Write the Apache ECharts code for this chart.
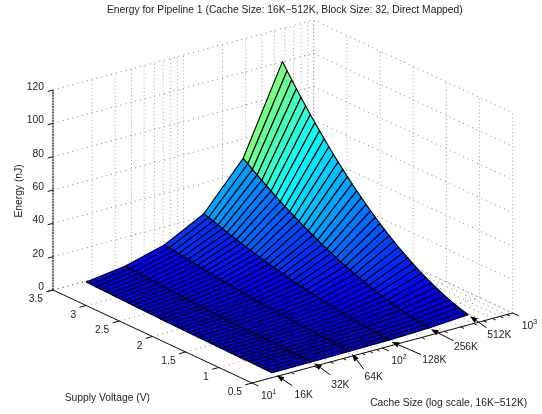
<!DOCTYPE html>
<html>
<head>
<meta charset="utf-8">
<style>
html,body{margin:0;padding:0;background:#fff}
#chart{width:542px;height:414px;filter:blur(0.3px)}
</style>
<script src="https://cdn.jsdelivr.net/npm/echarts@6/dist/echarts.min.js"></script>
</head>
<body>
<div id="chart"></div>
<script>
// ---- data ----
const titleText = 'Energy for Pipeline 1 (Cache Size: 16K\u2212512K, Block Size: 32, Direct Mapped)';
const zAxisName = 'Energy (nJ)';
const vAxisName = 'Supply Voltage (V)';
const cAxisName = 'Cache Size (log scale, 16K\u2212512K)';
const cacheLabels = ['16K','32K','64K','128K','256K','512K'];
const cacheSizes = [16,32,64,128,256,512];
const voltages = [.60,.67,.74,.81,.88,.95,1.02,1.09,1.16,1.23,1.30,1.37,1.44,1.51,1.58,1.65,1.72,1.79,1.86,1.93,2.00,2.07,2.14,2.21,2.28,2.35,2.42,2.49,2.56,2.63,2.70,2.77,2.84,2.91,2.98,3.05,3.12,3.19,3.26,3.33,3.40];
const energy16K  = [.07,.09,.11,.14,.16,.19,.22,.25,.28,.31,.35,.39,.43,.47,.52,.57,.61,.67,.72,.77,.83,.89,.95,1.01,1.08,1.15,1.22,1.29,1.36,1.44,1.51,1.59,1.67,1.75,1.84,1.93,2.02,2.11,2.21,2.30,2.4];
const energy32K  = [.17,.22,.27,.32,.38,.44,.50,.58,.65,.73,.82,.91,1.00,1.10,1.21,1.32,1.43,1.55,1.68,1.80,1.94,2.08,2.22,2.37,2.52,2.68,2.84,3.00,3.17,3.35,3.53,3.72,3.91,4.10,4.30,4.51,4.72,4.93,5.15,5.37,5.6];
const energy64K  = [.38,.47,.57,.69,.81,.94,1.09,1.24,1.41,1.58,1.77,1.96,2.17,2.39,2.61,2.85,3.10,3.35,3.62,3.90,4.19,4.49,4.79,5.11,5.44,5.78,6.13,6.49,6.86,7.24,7.63,8.03,8.44,8.86,9.30,9.74,10.19,10.65,11.12,11.61,12.1];
const energy128K = [.76,.95,1.16,1.38,1.63,1.90,2.20,2.51,2.84,3.19,3.57,3.96,4.38,4.81,5.27,5.75,6.24,6.76,7.30,7.86,8.44,9.04,9.67,10.31,10.97,11.66,12.36,13.09,13.83,14.60,15.39,16.20,17.02,17.87,18.74,19.63,20.55,21.48,22.43,23.41,24.4];
const energy256K = [1.60,1.99,2.43,2.91,3.44,4.01,4.62,5.27,5.97,6.71,7.50,8.33,9.20,10.12,11.08,12.08,13.13,14.22,15.35,16.53,17.75,19.02,20.32,21.67,23.07,24.51,25.99,27.51,29.08,30.70,32.35,34.05,35.79,37.58,39.41,41.28,43.20,45.16,47.16,49.21,51.3];
const energy512K = [3.21,4.00,4.88,5.85,6.90,8.04,9.27,10.59,11.99,13.48,15.06,16.72,18.48,20.32,22.24,24.26,26.36,28.55,30.82,33.19,35.64,38.18,40.80,43.52,46.32,49.21,52.18,55.24,58.39,61.63,64.95,68.37,71.87,75.45,79.12,82.89,86.73,90.67,94.69,98.80,103.0];
const energyByCache = [energy16K,energy32K,energy64K,energy128K,energy256K,energy512K];
const zTicks = [0,20,40,60,80,100,120];
const zTickLabels = ['0','20','40','60','80','100','120'];
const vTicks = [0.5,1,1.5,2,2.5,3,3.5];
const vTickLabels = ['0.5','1','1.5','2','2.5','3','3.5'];
const cMajorTicks = [10,100,1000];
const cMajorExponents = ['1','2','3'];
const cMinorTicks = [20,30,40,50,60,70,80,90,200,300,400,500,600,700,800,900];

// ---- orthographic view of the 3D box ----
const ORIGIN=[252,383], C_VEC=[260.7,-70], V_VEC=[-199,-93], Z_PIX=200;
function project(c,v,z){
  const t=(Math.log10(c)-1)/2, s=(v-0.5)/3;
  return [ORIGIN[0]+t*C_VEC[0]+s*V_VEC[0], ORIGIN[1]+t*C_VEC[1]+s*V_VEC[1]-z/120*Z_PIX];
}
const JET=[[0,[0,0,127]],[.125,[0,0,255]],[.375,[0,255,255]],[.625,[255,255,0]],[.875,[255,0,0]],[1,[127,0,0]]];
function jet(e){
  const v=Math.min(1,0.08+0.0042*e);
  for(let i=1;i<JET.length;i++){
    if(v<=JET[i][0]){
      const a=JET[i-1],b=JET[i],f=(v-a[0])/(b[0]-a[0]);
      return 'rgb('+a[1].map((x,k)=>Math.round(x+(b[1][k]-x)*f)).join(',')+')';
    }
  }
  return '#800000';
}
const TEXT='#222';
const FAMILY='"Liberation Sans", Arial, sans-serif';
const FONT='10.3px '+FAMILY;

function layer(items,draw,z){
  return {type:'custom',coordinateSystem:'cartesian2d',silent:true,z:z,clip:false,animation:false,
    data:items.map(()=>[0,0]),
    renderItem:(p,api)=>draw(items[p.dataIndex],q=>api.coord(q))};
}
function lineEl(a,b,style){return {type:'line',shape:{x1:a[0],y1:a[1],x2:b[0],y2:b[1]},style:style};}
function textEl(t,p,opt){
  opt=opt||{};
  return {type:'text',x:p[0],y:p[1],rotation:opt.rotation||0,
    style:{text:t,fill:TEXT,font:opt.font||FONT,align:opt.align||'center',verticalAlign:'middle'}};
}

// dotted grid
const cAll=cMajorTicks.concat(cMinorTicks);
const gridSegs=[];
const vertStyle={stroke:'#8a8a8a',lineWidth:.8,lineDash:[1,2.6],fill:null};
const horizStyle={stroke:'#444',lineWidth:.7,lineDash:[1,4],fill:null};
zTicks.forEach(z=>{
  gridSegs.push({s:[[10,3.5,z],[1000,3.5,z]],st:horizStyle});
  gridSegs.push({s:[[1000,3.5,z],[1000,.5,z]],st:horizStyle});
});
cAll.forEach(c=>{
  gridSegs.push({s:[[c,3.5,0],[c,3.5,120]],st:vertStyle});
  gridSegs.push({s:[[c,.5,0],[c,3.5,0]],st:horizStyle});
});
vTicks.forEach(v=>{
  gridSegs.push({s:[[1000,v,0],[1000,v,120]],st:vertStyle});
  gridSegs.push({s:[[10,v,0],[1000,v,0]],st:horizStyle});
});
const gridSeries=layer(gridSegs,(g,coord)=>lineEl(coord(project(...g.s[0])),coord(project(...g.s[1])),g.st),1);

// surface facets, back to front
const facets=[];
for(let j=voltages.length-2;j>=0;j--){
  for(let i=cacheSizes.length-2;i>=0;i--) facets.push([i,j]);
}
const surfaceSeries=layer(facets,(f,coord)=>{
  const i=f[0],j=f[1];
  const corner=(a,b)=>coord(project(cacheSizes[a],voltages[b],energyByCache[a][b]));
  return {type:'polygon',shape:{points:[corner(i,j),corner(i+1,j),corner(i+1,j+1),corner(i,j+1)]},
    style:{fill:jet(energyByCache[i+1][j]),stroke:'#000',lineWidth:1.15,lineJoin:'round'}};
},3);

// axes and ticks
const axStyle={stroke:'#111',lineWidth:1,fill:null};
const axisItems=[
  {p:[[10,.5,0],[1000,.5,0]]},
  {p:[[10,.5,0],[10,3.5,0]]},
  {p:[[10,3.5,0],[10,3.5,120]],zaxis:true}
];
const vecUnit=(a,len)=>{const n=Math.hypot(a[0],a[1]);return [a[0]/n*len,a[1]/n*len];};
const axisSeries=layer(axisItems,(it,coord)=>lineEl(coord(project(...it.p[0])),coord(project(...it.p[1])),
   it.zaxis?{stroke:'#333',lineWidth:1.4,fill:null,lineDash:[2,.8]}:axStyle),5);

const tickItems=[];
cMajorTicks.forEach(c=>tickItems.push({at:[c,.5,0],dir:vecUnit([-V_VEC[0],-V_VEC[1]],7)}));
cMinorTicks.forEach(c=>tickItems.push({at:[c,.5,0],dir:vecUnit([-V_VEC[0],-V_VEC[1]],3.5)}));
vTicks.forEach(v=>tickItems.push({at:[10,v,0],dir:vecUnit([-C_VEC[0],-C_VEC[1]],7)}));
zTicks.forEach(z=>tickItems.push({at:[10,3.5,z],dir:vecUnit([-C_VEC[0],-C_VEC[1]],5.5)}));
const tickSeries=layer(tickItems,(t,coord)=>{
  const a=project(...t.at);
  return lineEl(coord(a),coord([a[0]+t.dir[0],a[1]+t.dir[1]]),axStyle);
},5);

// tick labels and axis names
const labelItems=[];
zTicks.forEach((z,i)=>{const a=project(10,3.5,z);labelItems.push({t:zTickLabels[i],p:[a[0]-9,a[1]-3],align:'right'});});
vTicks.forEach((v,i)=>{const a=project(10,v,0);labelItems.push({t:vTickLabels[i],p:[a[0]-10,a[1]+9.5],align:'right'});});
cMajorTicks.forEach((c,i)=>{
  const a=project(c,.5,0);
  labelItems.push({t:'10',p:[a[0]+14.7,a[1]+13.3]});
  labelItems.push({t:cMajorExponents[i],p:[a[0]+22.4,a[1]+8.6],font:'7px '+FAMILY});
});
labelItems.push({t:zAxisName,p:[19,191],rotation:Math.PI/2});
labelItems.push({t:vAxisName,p:[107.3,397.7]});
labelItems.push({t:cAxisName,p:[448.7,402.7]});
const labelSeries=layer(labelItems,(l,coord)=>textEl(l.t,coord(l.p),l),6);

// arrows from the cache-size labels to the surface edge
const arrowTipOffset=[[4.7,2.7],[3.1,1.3],[1.5,2.9],[2,2],[2,1.3],[1.8,1.4]];
const arrowTailOffset=[[15.6,10.3],[16,11.6],[11.7,15],[29.3,12.7],[22.3,11.4],[16.7,11.7]];
const arrowLabelOffset=[[11.4,10],[10,10],[10,8],[13.3,5.6],[12.7,6.3],[12.6,7.3]];
const arrowItems=cacheSizes.map((c,i)=>i);
const arrowSeries=layer(arrowItems,(i,coord)=>{
  const a=project(cacheSizes[i],voltages[0],energyByCache[i][0]);
  const tip=[a[0]+arrowTipOffset[i][0],a[1]+arrowTipOffset[i][1]];
  const tail=[tip[0]+arrowTailOffset[i][0],tip[1]+arrowTailOffset[i][1]];
  const lab=[tail[0]+arrowLabelOffset[i][0],tail[1]+arrowLabelOffset[i][1]];
  const u=vecUnit(arrowTailOffset[i],1), n=[-u[1],u[0]];
  const L=7.5,W=2.8;
  const base=[tip[0]+u[0]*L,tip[1]+u[1]*L];
  return {type:'group',children:[
    lineEl(coord(base),coord(tail),{stroke:'#000',lineWidth:1,fill:null}),
    {type:'polygon',shape:{points:[coord(tip),coord([base[0]+n[0]*W,base[1]+n[1]*W]),coord([base[0]-n[0]*W,base[1]-n[1]*W])]},style:{fill:'#000',stroke:null}},
    textEl(cacheLabels[i],coord(lab))
  ]};
},7);

const chart=echarts.init(document.getElementById('chart'),null,{renderer:'canvas'});
chart.setOption({
  animation:false,
  backgroundColor:'#fff',
  title:{text:titleText,left:107,top:5,padding:0,textStyle:{fontSize:10.3,fontWeight:'normal',color:TEXT,fontFamily:FAMILY}},
  grid:{left:0,right:0,top:0,bottom:0},
  xAxis:{type:'value',min:0,max:542,show:false},
  yAxis:{type:'value',min:0,max:414,inverse:true,show:false},
  series:[gridSeries,surfaceSeries,axisSeries,tickSeries,labelSeries,arrowSeries]
});
</script>
</body>
</html>
